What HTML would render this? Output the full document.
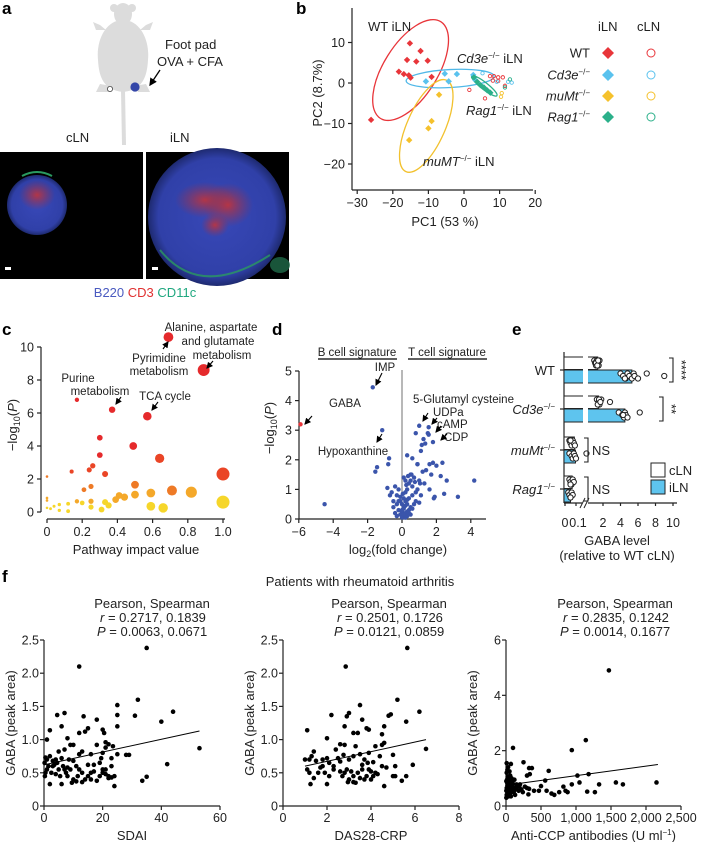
<!DOCTYPE html>
<html><head><meta charset="utf-8">
<style>
html,body{margin:0;padding:0;background:#fff;}
svg{display:block;font-family:"Liberation Sans",Arial,sans-serif;}
text{fill:#222;}
.tk{font-size:12.5px;}
.lb{font-size:13px;}
.sm{font-size:11.5px;}
.pl{font-size:17px;font-weight:bold;fill:#000;}
</style></head>
<body>
<svg id="fig" width="703" height="842" viewBox="0 0 703 842" xmlns="http://www.w3.org/2000/svg">
<defs>
<radialGradient id="gB" cx="50%" cy="50%" r="50%"><stop offset="0" stop-color="#3848b8"/><stop offset="0.85" stop-color="#3040a8"/><stop offset="1" stop-color="#1e2a70"/></radialGradient>
<radialGradient id="gR" cx="50%" cy="50%" r="50%"><stop offset="0" stop-color="#c0343c" stop-opacity="0.9"/><stop offset="1" stop-color="#a03040" stop-opacity="0"/></radialGradient>
<marker id="ah" markerWidth="6" markerHeight="6" refX="5" refY="3" orient="auto"><path d="M0,0 L6,3 L0,6 z" fill="#000"/></marker>
</defs>

<!-- Panel a -->
<g>
<text class="pl" x="2" y="14">a</text>
<g fill="#dcdcdc">
<ellipse cx="123" cy="14" rx="9" ry="11"/>
<ellipse cx="114" cy="8" rx="4" ry="4"/><ellipse cx="132" cy="8" rx="4" ry="4"/>
<path d="M100,25 L93,22 L96,30 L106,30 Z"/><path d="M146,25 L153,22 L150,30 L140,30 Z"/>
<path d="M123,20 C140,20 150,40 148,60 C147,78 142,90 123,92 C104,90 99,78 98,60 C96,40 106,20 123,20 Z"/>
<path d="M100,84 L96,92 L108,92 L112,86 Z"/><path d="M146,84 L150,92 L138,92 L134,86 Z"/>
<path d="M121,90 L125,90 L126,145 L122,145 Z"/>
</g>
<circle cx="110" cy="89" r="2.6" fill="#fff" stroke="#444" stroke-width="0.8"/>
<circle cx="135" cy="87" r="4.6" fill="#3446a8"/>
<line x1="160" y1="70" x2="150" y2="85" stroke="#000" stroke-width="1.3" marker-end="url(#ah)"/>
<text class="lb" x="165" y="49">Foot pad</text>
<text class="lb" x="157" y="66">OVA + CFA</text>
<text class="lb" x="66" y="142">cLN</text>
<text class="lb" x="170" y="142">iLN</text>
<rect x="0" y="152" width="143" height="127" fill="#000"/>
<circle cx="37" cy="205" r="30" fill="url(#gB)"/>
<ellipse cx="37" cy="195" rx="18" ry="15" fill="url(#gR)"/>
<path d="M22,176 Q37,168 52,176" stroke="#2a9a60" stroke-width="2" fill="none"/>
<rect x="5" y="267" width="6" height="3" fill="#fff"/>
<rect x="146" y="152" width="143" height="127" fill="#000"/>
<circle cx="217" cy="217" r="69" fill="url(#gB)"/>
<ellipse cx="205" cy="200" rx="30" ry="18" fill="url(#gR)"/>
<ellipse cx="228" cy="205" rx="25" ry="22" fill="url(#gR)"/>
<ellipse cx="215" cy="225" rx="14" ry="12" fill="url(#gR)"/>
<path d="M160,250 Q200,300 270,255" stroke="#2a9a60" stroke-width="2" fill="none" opacity="0.8"/>
<ellipse cx="280" cy="265" rx="10" ry="8" fill="#1f6a48" opacity="0.8"/>
<rect x="152" y="267" width="6" height="3" fill="#fff"/>
<text class="lb" x="145" y="297" text-anchor="middle"><tspan fill="#4a5ac0">B220</tspan> <tspan fill="#e03030">CD3</tspan> <tspan fill="#20a880">CD11c</tspan></text>
</g>

<g id="pb"><text class="pl" x="296" y="14">b</text></g>
<g id="pc"><text class="pl" x="2" y="335">c</text></g>
<g id="pd"><text class="pl" x="272" y="335">d</text></g>
<g id="pe"><text class="pl" x="512" y="335">e</text></g>
<g id="pf"><text class="pl" x="2" y="582">f</text>
<text class="lb" x="360" y="586" text-anchor="middle">Patients with rheumatoid arthritis</text></g>
</svg>

<script>
// ---------- Panel b data (PCA) ----------
const pcaWtX=[-15.2,-12.2,-16,-13.4,-10.2,-18.3,-16.9,-15.5,-15,-9.1,-26.1];
const pcaWtY=[9.8,7.9,5.7,5.3,5.5,2.8,2.2,1.9,1.3,1.5,-9.1];
const pcaCdX=[-10.7,-5.4,-4.3,-2,2.6,3.2];
const pcaCdY=[0.4,2.3,0.4,2.2,2,0.7];
const pcaMuX=[-7,-9.1,-10,-15.4];
const pcaMuY=[-2.9,-9.4,-11.2,-14.1];
const pcaRgX=[2.8,3.7,4.6,5.6,6.5,7.4];
const pcaRgY=[1.4,0.3,-0.5,-1.1,-1.8,-2.4];
const cWtX=[7.3,8.4,9.6,10.9,8.1,9.6,11.5,1.5,5.9];
const cWtY=[1.7,1.7,1.4,1.4,0.6,0.5,-0.7,-1.7,-3.8];
const cCdX=[5.2,9.2,12.4,13.4];
const cCdY=[2.4,0.3,0.3,0.1];
const cMuX=[10.6,10.4];
const cMuY=[-2.5,-3.4];
const cRgX=[11.5,12.9];
const cRgY=[-1.1,0.9];
const pcaXTicks=[-30,-20,-10,0,10,20];
const pcaYTicks=[10,0,-10,-20];

// ---------- Panel c data ----------
const pathImpact=[0.69,0.89,0.17,0.37,0.57,0.30,0.49,0.30,0.64,0.14,0.26,0.24,0.33,1.0,0,0.21,0.25,0.50,0.41,0.44,0.50,0.59,0.71,0.82,0.39,0,0,0.17,0.25,0.12,0.07,0.04,0.20,0.33,0.35,0.25,0.31,0.59,0.66,1.0,0,0.02,0.07,0.12];
const pathLogP=[10.6,8.6,6.8,6.2,5.8,4.5,4.0,3.45,3.25,2.45,2.8,2.55,2.3,2.3,2.15,1.35,1.55,1.65,1.0,0.9,1.05,1.15,1.3,1.2,0.75,0.85,0.7,0.65,0.65,0.5,0.45,0.35,0.55,0.6,0.4,0.3,0.15,0.35,0.25,0.6,0.25,0.2,0.1,0.05];
const cXTicks=[0,0.2,0.4,0.6,0.8,1.0];
const cYTicks=[0,2,4,6,8,10];

// ---------- Panel d data ----------
const volFC=[-5.9,-1.7,-1.15,-0.75,-0.8,-1.45,-1.55,-4.5,1.0,1.55,1.55,1.8,0.3,0.6,0.9,1.15,1.35,1.1,1.6,1.8,2.0,2.35,2.25,2.45,3.25,4.2,1.9,1.85,0.8,1.25,1.5,0.5,0.7,1.0,1.2,0.4,0.6,0.9,1.3,1.6,0.2,0.35,0.5,0.8,1.1,-0.2,-0.4,-0.6,-0.3,0.1,0.3,0.6,0.8,-0.5,-0.7,0.2,0.4,0.7,1.0,-0.1,0.1,0.3,0.5,-0.3,-0.5,0.0,0.2,0.4,-0.2,0.1,0.3,0.6,-0.4,0.0,0.2,0.5,-0.1,0.1,0.3,-0.3,0.0,0.2,0.4,0.1,-0.2,0.3,0.0,0.2,0.1,-0.1,0.05,0.25,1.4,0.9,2.6,1.7,0.55,0.75,1.05,-0.85];
const volLogP=[3.2,4.45,3.0,2.05,1.85,1.75,1.6,0.5,3.15,3.1,2.85,2.6,2.15,2.05,1.85,2.5,2.55,2.3,1.85,1.9,1.8,1.9,1.45,0.85,0.75,1.3,0.75,0.7,2.9,2.7,2.9,1.5,1.4,1.3,1.6,1.2,1.1,1.0,1.2,1.0,1.3,1.45,1.3,0.9,0.8,1.0,1.1,0.9,0.8,1.4,1.0,0.8,0.6,0.6,0.8,0.9,0.7,0.5,0.55,0.6,0.7,0.65,0.4,0.5,0.4,0.5,0.45,0.3,0.3,0.35,0.25,0.35,0.2,0.25,0.2,0.15,0.15,0.1,0.1,0.1,0.05,0.05,0.2,0.4,0.6,0.5,0.3,0.6,0.15,0.75,0.85,1.15,1.65,1.85,1.3,1.5,1.5,1.25,1.2,1.05];
const dXTicks=[-6,-4,-2,0,2,4];
const dYTicks=[0,1,2,3,4,5];

// ---------- Panel e data ----------
const eGroups=["WT","Cd3e","muMt","Rag1"];
const eCln=[1.4,1.5,0.085,0.065];
const eIln=[5.3,4.5,0.095,0.05];
const eClnDots=[[1.0,1.1,1.2,1.3,1.4,1.5,1.6,1.2,1.35,1.45],[1.3,1.5,1.6,1.8,2.8,1.4,1.55,1.7],[0.04,0.05,0.06,0.07,0.08,0.09,0.05],[0.04,0.05,0.06,0.07,0.08,0.05]];
const eIlnDots=[[4.0,4.3,4.6,4.8,5.0,5.3,5.5,5.6,6.0,7.0,9.0,4.5],[3.8,4.2,4.4,4.5,4.6,4.8,6.2,4.3],[0.04,0.06,0.07,0.08,0.09,0.1,0.11],[0.03,0.04,0.05,0.06,0.07,0.05]];
const eSig=["****","**","NS","NS"];
const eXTicks=[0,0.1,2,4,6,8,10];

// ---------- Panel f data ----------
const sdaiX=[35,12,32,25,44,7,4.5,13.5,25,31,40,18,6,15,20,25,2,12,14,8,20.5,1,9,10,18,21,22,23.5,5,13,16,20,2,0.5,1,3,4.5,6,7,8.5,11,12,15,17,19,21,23,25,28,29,53,42,35,33.5,24,0.3,0.5,1,2,2.5,3,4,5,5.5,6,6.5,7,7.5,8,9,9.5,10,11,11.5,13,14,15,16,17,18,19,20,21,22,23,22,20,24,3.5,1.5,0.2,4,8,10,12,16,19.5,23,21,13];
const sdaiY=[2.38,2.1,1.6,1.52,1.42,1.4,1.37,1.35,1.37,1.36,1.27,1.3,1.2,1.17,1.15,1.2,1.14,1.1,1.12,1.02,1.1,1.0,0.92,0.92,0.92,0.96,0.93,0.9,0.82,0.82,0.78,0.8,0.75,0.73,0.7,0.68,0.65,0.72,0.85,0.7,0.6,0.55,0.62,0.62,0.65,0.55,0.6,0.78,0.77,0.77,0.87,0.63,0.44,0.38,0.3,0.45,0.5,0.55,0.33,0.5,0.6,0.48,0.55,0.45,0.33,0.6,0.55,0.5,0.45,0.55,0.35,0.4,0.37,0.45,0.36,0.4,0.45,0.4,0.52,0.38,0.45,0.5,0.48,0.45,0.43,0.42,0.55,0.45,0.62,0.6,0.65,0.7,0.58,0.68,0.78,0.5,0.72,0.72,0.88,0.5];
const sdaiFitX=[0,53];
const sdaiFitY=[0.62,1.13];
const dasX=[5.65,2.85,5.2,3.5,6.2,3,2.2,2.9,4.9,4.8,5.6,3.6,2.8,3.8,3.9,4.6,1.1,3.2,3.4,2,4.5,2.6,2.8,4.6,4.2,4.5,6.5,2.4,3.3,3.9,3.5,5,1.4,1.3,1.0,1.2,1.5,1.8,2,2.1,2.3,2.6,2.75,3,3.2,3.7,3.85,4.1,4.4,5.1,5.9,1.1,1.2,1.4,1.6,1.8,1.9,2.1,2.3,2.6,2.7,2.8,2.9,3,3.1,3.2,3.3,3.4,3.5,3.6,3.7,3.8,3.9,4,4.1,4.2,4.3,4.6,4.7,5,5.1,5.4,5.6,1.25,2,2.95,3.2,1.7,3.6,4.0,2.5,4.5];
const dasY=[2.38,2.1,1.6,1.52,1.42,1.4,1.37,1.35,1.38,1.36,1.27,1.3,1.2,1.17,1.15,1.2,1.14,1.1,1.1,1.02,1.08,0.93,0.92,0.95,0.9,0.92,0.86,0.85,0.9,0.8,0.78,0.77,0.82,0.75,0.7,0.7,0.68,0.7,0.72,0.65,0.6,0.67,0.77,0.7,0.75,0.7,0.65,0.66,0.75,0.6,0.62,0.55,0.5,0.42,0.5,0.6,0.5,0.45,0.55,0.52,0.45,0.5,0.55,0.4,0.52,0.45,0.35,0.5,0.42,0.55,0.4,0.45,0.55,0.4,0.45,0.5,0.48,0.3,0.58,0.45,0.45,0.38,0.45,0.33,0.33,0.36,0.36,0.58,0.62,0.52,0.72,0.6];
const dasFitX=[1,6.5];
const dasFitY=[0.6,1.0];
const ccpX=[1470,1140,940,100,250,70,10,330,370,30,20,50,340,610,1180,1020,300,560,10,60,80,120,30,5,15,40,100,150,200,270,300,330,500,820,940,1050,1330,1570,1670,2150,400,470,580,650,690,760,850,880,1160,1270,320,5,10,20,30,40,50,60,70,80,90,110,130,140,160,180,10,20,15,25,45,55,65,85,5,35,120,190,220,240];
const ccpY=[4.9,2.38,2.02,2.1,1.58,1.52,1.55,1.37,1.37,1.4,1.3,1.25,1.15,1.27,1.15,1.1,1.1,0.92,1.2,1.1,1.0,0.95,1.0,0.9,0.85,0.8,0.8,0.78,0.78,0.7,0.65,0.62,0.72,0.7,0.78,0.85,0.78,0.85,0.78,0.85,0.55,0.55,0.55,0.45,0.4,0.5,0.55,0.5,0.52,0.5,0.42,0.3,0.4,0.5,0.6,0.7,0.55,0.45,0.35,0.6,0.7,0.5,0.4,0.6,0.7,0.55,0.65,0.75,0.95,1.05,0.9,0.65,0.8,0.85,0.55,0.35,0.65,0.7,0.6,0.5];
const ccpFitX=[140,2170];
const ccpFitY=[0.8,1.5];
const sdaiTicks=[0,20,40,60];
const dasTicks=[0,2,4,6,8];
const ccpTicks=[0,500,1000,1500,2000,2500];
const ccpTickLabels=["0","500","1,000","1,500","2,000","2,500"];
const gabaTicks=[0,0.5,1.0,1.5,2.0,2.5];
const gabaTickLabels=["0","0.5","1.0","1.5","2.0","2.5"];
const ccpYTicks=[0,2,4,6];
const fStatsR=["0.2717, 0.1839","0.2501, 0.1726","0.2835, 0.1242"];
const fStatsP=["0.0063, 0.0671","0.0121, 0.0859","0.0014, 0.1677"];

// ---------- helpers ----------
const NS="http://www.w3.org/2000/svg";
function mk(parent,tag,attrs,txt){const e=document.createElementNS(NS,tag);for(const k in attrs)e.setAttribute(k,attrs[k]);if(txt!==undefined)e.textContent=txt;parent.appendChild(e);return e;}
function line(p,x1,y1,x2,y2,c,w){return mk(p,'line',{x1:x1,y1:y1,x2:x2,y2:y2,stroke:c||'#222','stroke-width':w||1.2});}
function diamond(p,x,y,s,fill){return mk(p,'path',{d:`M${x},${y-s} L${x+s},${y} L${x},${y+s} L${x-s},${y} Z`,fill:fill});}

// ---------- Panel b ----------
(function(){
const g=document.getElementById('pb');
const xb=v=>464+v*3.56, yb=v=>83-v*4.05;
let a=line(g,352,8,352,190);


a=line(g,352,190,533,190);


pcaXTicks.forEach(t=>{line(g,xb(t),190,xb(t),194);const e=mk(g,'text',{class:'tk',x:xb(t),y:207,'text-anchor':'middle'},t<0?'\u2212'+(-t):t);

});
pcaYTicks.forEach(t=>{line(g,348,yb(t),352,yb(t));const e=mk(g,'text',{class:'tk',x:345,y:yb(t)+4.5,'text-anchor':'end'},t<0?'\u2212'+(-t):t);

});
let t=mk(g,'text',{class:'lb',x:445,y:226,'text-anchor':'middle'},'PC1 (53 %)');


t=mk(g,'text',{class:'lb',x:0,y:0,'text-anchor':'middle',transform:'translate(322,93) rotate(-90)'},'PC2 (8.7%)');


// ellipses
const ells=[[-15,3.2,57,27,-58,'#e8353a','wt-ellipse'],[-3.9,1.1,44,9,-3,'#50b8e8','cd3e-ellipse'],[-10.6,-10.6,50,19,-66,'#f2c12e','mumt-ellipse'],[5.7,-0.7,16,3.5,38,'#2bb08a','rag1-ellipse']];
ells.forEach(e=>{const el=mk(g,'ellipse',{cx:0,cy:0,rx:e[2],ry:e[3],fill:'none',stroke:e[5],'stroke-width':1.3,transform:`translate(${xb(e[0])},${yb(e[1])}) rotate(${e[4]})`});

});
const sets=[[pcaWtX,pcaWtY,'#e8353a'],[pcaCdX,pcaCdY,'#5ac2ee'],[pcaMuX,pcaMuY,'#f5c12c'],[pcaRgX,pcaRgY,'#2bb08a']];
sets.forEach(s=>s[0].forEach((x,i)=>{const d=diamond(g,xb(x),yb(s[1][i]),3.2,s[2]);

}));
const csets=[[cWtX,cWtY,'#e8353a'],[cCdX,cCdY,'#5ac2ee'],[cMuX,cMuY,'#f5c12c'],[cRgX,cRgY,'#2bb08a']];
csets.forEach(s=>s[0].forEach((x,i)=>{const c=mk(g,'circle',{cx:xb(x),cy:yb(s[1][i]),r:1.7,fill:'none',stroke:s[2],'stroke-width':0.9});

}));
const lab=(x,y,html,n)=>{const e=mk(g,'text',{class:'lb',x:x,y:y});e.innerHTML=html;

return e;};
lab(368,31,'WT iLN','wt-iln-label');
lab(457,63,'<tspan font-style="italic">Cd3e</tspan><tspan font-size="8" dy="-5">\u2212/\u2212</tspan><tspan dy="5"> iLN</tspan>','cd3e-iln-label');
lab(466,115,'<tspan font-style="italic">Rag1</tspan><tspan font-size="8" dy="-5">\u2212/\u2212</tspan><tspan dy="5"> iLN</tspan>','rag1-iln-label');
lab(423,166,'<tspan font-style="italic">muMT</tspan><tspan font-size="8" dy="-5">\u2212/\u2212</tspan><tspan dy="5"> iLN</tspan>','mumt-iln-label');
// legend
lab(598,31,'iLN','legend-iln-header');
lab(637,31,'cLN','legend-cln-header');
const legNames=['WT','Cd3e','muMt','Rag1'];const legCols=['#e8353a','#5ac2ee','#f5c12c','#2bb08a'];const legY=[53,75,96,117];
legNames.forEach((n,i)=>{const e=lab(590,legY[i]+4.5,i==0?'WT':'<tspan font-style="italic">'+n+'</tspan><tspan font-size="8" dy="-5">\u2212/\u2212</tspan>','legend-'+n.toLowerCase());e.setAttribute('text-anchor','end');
const d=diamond(g,608,legY[i],6,legCols[i]);


const c=mk(g,'circle',{cx:651,cy:legY[i],r:4,fill:'none',stroke:legCols[i],'stroke-width':1});

});
})();

// ---------- Panel c ----------
(function(){
const g=document.getElementById('pc');
const xc=v=>47+v*176, yc=v=>512-v*16.5;
let a=line(g,41,yc(10),41,512);


a=line(g,47,519,225,519);


cYTicks.forEach(t=>{line(g,37,yc(t),41,yc(t));const e=mk(g,'text',{class:'tk',x:34,y:yc(t)+4.5,'text-anchor':'end'},t);

});
cXTicks.forEach(t=>{line(g,xc(t),519,xc(t),523);const e=mk(g,'text',{class:'tk',x:xc(t),y:536,'text-anchor':'middle'},t==0?'0':t.toFixed(1));

});
let t=mk(g,'text',{class:'lb',x:136,y:554,'text-anchor':'middle'},'Pathway impact value');


t=mk(g,'text',{class:'lb',x:0,y:0,'text-anchor':'middle',transform:'translate(17,425) rotate(-90)'});
t.innerHTML='\u2212log<tspan font-size="9" dy="3">10</tspan><tspan dy="-3">(</tspan><tspan font-style="italic">P</tspan>)';


const col=v=>v>=3.4?'#e52a2c':v>=2.2?'#ea4526':v>=1.25?'#ee7a26':v>=0.62?'#f4a82a':'#f6d62a';
pathImpact.forEach((x,i)=>{const c=mk(g,'circle',{cx:xc(x),cy:yc(pathLogP[i]),r:(1.3+x*5.2).toFixed(2),fill:col(pathLogP[i])});

});
const lab=(x,y,s,n,anc)=>{const e=mk(g,'text',{class:'sm',x:x,y:y,'text-anchor':anc||'middle'},s);

};
lab(211,331,'Alanine, aspartate','label-alanine-1');
lab(218,345,'and glutamate','label-alanine-2');
lab(222,359,'metabolism','label-alanine-3');
lab(159,362,'Pyrimidine','label-pyrimidine-1');
lab(159,375,'metabolism','label-pyrimidine-2');
lab(78,382,'Purine','label-purine-1');
lab(100,395,'metabolism','label-purine-2');
lab(165,400,'TCA cycle','label-tca');
[[163,349,168,342],[213,361,207,368],[121,397,116,404],[158,402,152,410]].forEach(p=>{const l=line(g,p[0],p[1],p[2],p[3],'#000',1.1);l.setAttribute('marker-end','url(#ah)');});
})();

// ---------- Panel d ----------
(function(){
const g=document.getElementById('pd');
const xd=v=>402+v*17.2, yd=v=>519-v*29.6;
let a=line(g,299,yd(5),299,519);


a=line(g,299,519,486,519);


a=line(g,xd(0),370,xd(0),519,'#888',1.2);


dYTicks.forEach(t=>{line(g,295,yd(t),299,yd(t));const e=mk(g,'text',{class:'tk',x:292,y:yd(t)+4.5,'text-anchor':'end'},t);

});
dXTicks.forEach(t=>{line(g,xd(t),519,xd(t),523);const e=mk(g,'text',{class:'tk',x:xd(t),y:536,'text-anchor':'middle'},t<0?'\u2212'+(-t):t);

});
let t=mk(g,'text',{class:'lb',x:398,y:554,'text-anchor':'middle'});
t.innerHTML='log<tspan font-size="9" dy="3">2</tspan><tspan dy="-3">(fold change)</tspan>';


t=mk(g,'text',{class:'lb',x:0,y:0,'text-anchor':'middle',transform:'translate(274,428) rotate(-90)'});
t.innerHTML='\u2212log<tspan font-size="9" dy="3">10</tspan><tspan dy="-3">(</tspan><tspan font-style="italic">P</tspan>)';


volFC.forEach((x,i)=>{const c=mk(g,'circle',{cx:xd(x),cy:yd(volLogP[i]),r:2.2,fill:i==0?'#e8353a':'#3b55ab'});

});
const lab=(x,y,s,n,anc)=>{const e=mk(g,'text',{class:'sm',x:x,y:y,'text-anchor':anc||'middle'},s);

};
lab(357,356,'B cell signature','b-cell-signature-label');
lab(447,356,'T cell signature','t-cell-signature-label');
line(g,318,359,397,359,'#000',1.2);
line(g,408,359,487,359,'#000',1.2);
lab(385,371,'IMP','imp-label');
lab(329,407,'GABA','gaba-label','start');
lab(353,455,'Hypoxanthine','hypoxanthine-label');
lab(413,403,'5-Glutamyl cysteine','glutamyl-label','start');
lab(433,416,'UDPa','udpa-label','start');
lab(437,428,'cAMP','camp-label','start');
lab(444,441,'CDP','cdp-label','start');
[[382,373,376,385],[312,416,305,424],[382,434,377,442],[428,413,423,421],[437,418,432,424],[441,426,436,432],[447,434,441,440]].forEach(p=>{const l=line(g,p[0],p[1],p[2],p[3],'#000',1.1);l.setAttribute('marker-end','url(#ah)');});
})();

// ---------- Panel e ----------
(function(){
const g=document.getElementById('pe');
const xe=v=>v<=0.1?565+v*110:603+(v-2)*8.75;
const rowC=[370,409,450,489];
let a=line(g,564,352,564,503);


a=line(g,564,503,582,503);


a=line(g,588,503,677,503);


line(g,580,508,585,498,'#222',1);line(g,584,508,589,498,'#222',1);
eXTicks.forEach(t=>{line(g,xe(t),503,xe(t),506);const e=mk(g,'text',{class:'tk',x:xe(t)+(t==0.1?2:0),y:527,'text-anchor':'middle'},t);

});
let t=mk(g,'text',{class:'lb',x:617,y:545,'text-anchor':'middle'},'GABA level');


t=mk(g,'text',{class:'lb',x:617,y:560,'text-anchor':'middle'},'(relative to WT cLN)');


eGroups.forEach((gr,i)=>{
 const y=rowC[i];
 line(g,560,y,564,y);
 const b1=mk(g,'rect',{x:564,y:y-13,width:xe(eCln[i])-564,height:12.5,fill:'#fff',stroke:'#222','stroke-width':1});
 
 
 const b2=mk(g,'rect',{x:564,y:y,width:xe(eIln[i])-564,height:13,fill:'#5ec4ee',stroke:'#222','stroke-width':1});
 
 
 if(eCln[i]>0.1||eIln[i]>0.1) mk(g,'rect',{x:583,y:y-14,width:5,height:28,fill:'#fff'});
 eClnDots[i].forEach((v,j)=>{const c=mk(g,'circle',{cx:xe(v),cy:y-7+((j%3)-1)*2.5,r:2.6,fill:'#fff',stroke:'#222','stroke-width':1});
 
 });
 eIlnDots[i].forEach((v,j)=>{const c=mk(g,'circle',{cx:xe(v),cy:y+6+((j%3)-1)*2.5,r:2.6,fill:'#fff',stroke:'#222','stroke-width':1});
 
 });
 const lbl=mk(g,'text',{class:'lb',x:555,y:y+5,'text-anchor':'end'});
 lbl.innerHTML=i==0?'WT':'<tspan font-style="italic">'+gr+'</tspan><tspan font-size="8" dy="-5">\u2212/\u2212</tspan>';
 
 
 const bx=i==0?673:i==1?663:588;
 mk(g,'path',{d:`M${bx-4},${y-12} H${bx} V${y+12} H${bx-4}`,fill:'none',stroke:'#222','stroke-width':1.1});
 const s=eSig[i];
 let st;
 if(s=='NS') st=mk(g,'text',{class:'lb',x:bx+4,y:y+5},s);
 else st=mk(g,'text',{class:'lb',x:0,y:0,'text-anchor':'middle',transform:`translate(${bx+4},${y}) rotate(90)`},s);
 
 
});
let r=mk(g,'rect',{x:651,y:463,width:14,height:14,fill:'#fff',stroke:'#222','stroke-width':1});


r=mk(g,'rect',{x:651,y:480,width:14,height:14,fill:'#5ec4ee',stroke:'#222','stroke-width':1});


t=mk(g,'text',{class:'lb',x:669,y:475},'cLN');


t=mk(g,'text',{class:'lb',x:669,y:492},'iLN');


})();

// ---------- Panel f ----------
(function(){
const g=document.getElementById('pf');
const plots=[
 {x0:44,x1:220,xmax:60,xs:sdaiX,ys:sdaiY,fx:sdaiFitX,fy:sdaiFitY,ymax:2.5,xt:sdaiTicks,xtl:sdaiTicks.map(String),yt:gabaTicks,ytl:gabaTickLabels,xl:'SDAI',id:'sdai'},
 {x0:283,x1:459,xmax:8,xs:dasX,ys:dasY,fx:dasFitX,fy:dasFitY,ymax:2.5,xt:dasTicks,xtl:dasTicks.map(String),yt:gabaTicks,ytl:gabaTickLabels,xl:'DAS28-CRP',id:'das28'},
 {x0:506,x1:681,xmax:2500,xs:ccpX,ys:ccpY,fx:ccpFitX,fy:ccpFitY,ymax:6,xt:ccpTicks,xtl:ccpTickLabels,yt:ccpYTicks,ytl:ccpYTicks.map(String),xl:'',id:'ccp'}];
plots.forEach((p,k)=>{
 const X=v=>p.x0+v/p.xmax*(p.x1-p.x0), Y=v=>806-v/p.ymax*166;
 let a=line(g,p.x0,640,p.x0,806);
 
 
 a=line(g,p.x0,806,p.x1,806);
 
 
 p.xt.forEach((t,i)=>{line(g,X(t),806,X(t),810);const e=mk(g,'text',{class:'tk',x:X(t),y:822,'text-anchor':'middle'},p.xtl[i]);
 
 });
 p.yt.forEach((t,i)=>{line(g,p.x0-4,Y(t),p.x0,Y(t));const e=mk(g,'text',{class:'tk',x:p.x0-5,y:Y(t)+4.5,'text-anchor':'end'},p.ytl[i]);
 
 });
 p.xs.forEach((x,i)=>{const c=mk(g,'circle',{cx:X(x),cy:Y(p.ys[i]),r:2.3,fill:'#000'});
 
 });
 const fl=line(g,X(p.fx[0]),Y(p.fy[0]),X(p.fx[1]),Y(p.fy[1]),'#000',1);
 
 
 let t=mk(g,'text',{class:'lb',x:0,y:0,'text-anchor':'middle',transform:`translate(${p.x0-29},723) rotate(-90)`},'GABA (peak area)');
 
 
 t=mk(g,'text',{class:'lb',x:(p.x0+p.x1)/2,y:840,'text-anchor':'middle'});
 if(p.xl) t.textContent=p.xl; else t.innerHTML='Anti-CCP antibodies (U ml<tspan font-size="8" dy="-5">\u22121</tspan><tspan dy="5">)</tspan>';
 
 
 const cx=[152,389,615][k];
 t=mk(g,'text',{class:'lb',x:cx,y:608,'text-anchor':'middle'},'Pearson, Spearman');
 
 
 t=mk(g,'text',{class:'lb',x:cx-52,y:622});
 t.innerHTML='<tspan font-style="italic">r</tspan> =  '+fStatsR[k];
 
 
 t=mk(g,'text',{class:'lb',x:cx-55,y:636});
 t.innerHTML='<tspan font-style="italic">P</tspan> =  '+fStatsP[k];
 
 
});
})();
</script>
</body></html>
